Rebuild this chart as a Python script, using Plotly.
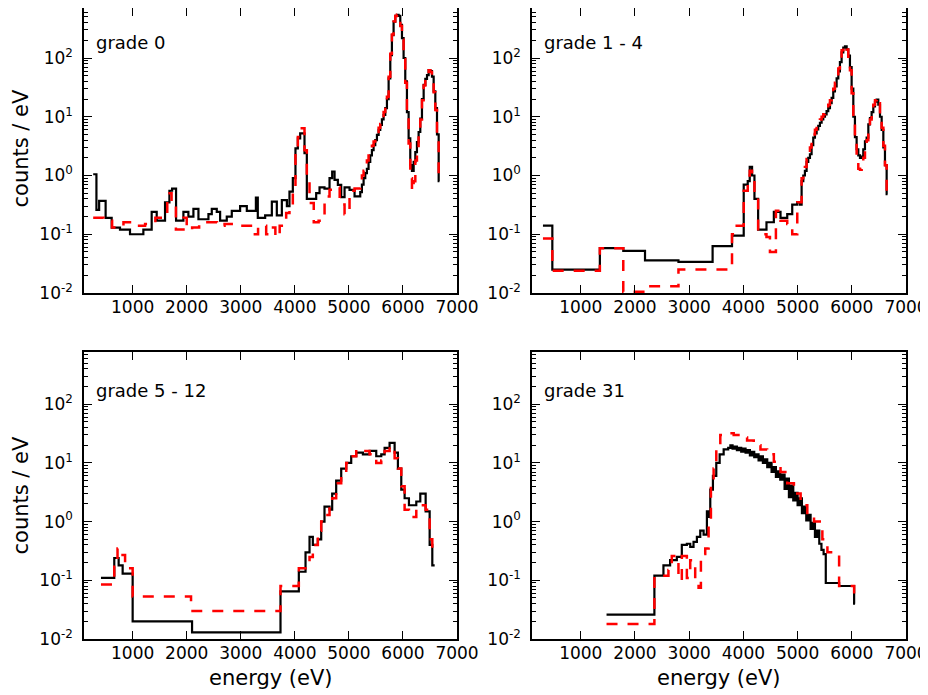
import plotly.graph_objects as go

# ---------------- data (bin edges in eV, counts / eV per bin) ----------------
g0_black_edges = [270, 330, 380, 500, 612, 766, 951, 1198, 1352, 1445, 1599, 1680, 1730, 1803,
                  1939, 2031, 2124, 2217, 2402, 2464, 2556, 2618, 2741, 2834, 2988, 3112, 3280,
                  3315, 3451, 3575, 3667, 3760, 3853, 3901, 3963, 4012, 4056, 4099, 4179, 4222,
                  4395, 4457, 4549, 4642, 4691, 4735, 4796, 4858, 4920, 5012, 5105,
                  5210, 5241, 5272, 5303, 5333, 5364, 5395, 5426, 5457, 5488, 5519, 5550, 5580,
                  5611, 5642, 5673, 5704, 5735, 5766, 5796, 5827, 5858, 5889, 5920, 5951, 5982,
                  6012, 6043, 6074, 6105, 6136, 6167, 6198, 6229, 6259, 6290, 6321, 6352, 6383,
                  6414, 6445, 6476, 6506, 6537, 6568, 6599, 6630, 6661, 6675]
g0_black_vals = [1.05, 0.26, 0.37, 0.19, 0.13, 0.12, 0.10, 0.12, 0.24, 0.17, 0.35, 0.55, 0.6,
                 0.17, 0.24, 0.20, 0.27, 0.18, 0.22, 0.27, 0.24, 0.17, 0.20, 0.25, 0.30, 0.25,
                 0.42, 0.19, 0.21, 0.36, 0.21, 0.38, 0.30, 0.53, 0.9, 2.9, 4.3, 5.2, 2.4, 0.4,
                 0.5, 0.63, 0.6, 0.9, 1.17, 0.84, 0.69, 0.43, 0.63, 0.57, 0.44,
                 0.52, 0.7, 0.9, 1.1, 1.3, 1.7, 2.2, 2.7, 3.3, 4.0, 4.9, 6.0, 7.3, 9, 10.7, 14,
                 20, 45, 112, 245, 415, 520, 540, 520, 365, 218, 100, 40, 12, 4.3, 1.5, 1.2,
                 1.7, 2.5, 3.7, 5.5, 9.3, 20, 35, 44, 51, 62, 60, 48, 27, 14, 5, 0.8]

g0_red_edges = [270, 460, 620, 830, 1075, 1230, 1420, 1520, 1640, 1720, 1800, 1940, 2000, 2100,
                2230, 2400, 2560, 2700, 2870, 3080, 3230, 3320, 3470, 3560, 3640, 3720, 3840,
                3901, 3963, 4012, 4056, 4099, 4179, 4222, 4272, 4350, 4440, 4550, 4642, 4735,
                4830, 4920, 5012, 5105,
                5210, 5241, 5272, 5303, 5333, 5364, 5395, 5426, 5457, 5488, 5519, 5550, 5580,
                5611, 5642, 5673, 5704, 5735, 5766, 5796, 5827, 5858, 5889, 5920, 5951, 5982,
                6012, 6043, 6074, 6105, 6136, 6167, 6198, 6229, 6259, 6290, 6321, 6352, 6383,
                6414, 6445, 6476, 6506, 6537, 6568, 6599, 6630, 6661, 6675]
g0_red_vals = [0.19, 0.17, 0.13, 0.16, 0.14, 0.15, 0.19, 0.22, 0.5, 0.3, 0.12, 0.19, 0.12,
               0.13, 0.16, 0.16, 0.14, 0.15, 0.14, 0.14, 0.10, 0.14, 0.10, 0.13, 0.09, 0.14,
               0.23, 0.26, 0.55, 2.5, 4.5, 6.4, 2.7, 0.8, 0.34, 0.16, 0.17, 0.44, 0.57, 0.63,
               0.32, 0.22, 0.55, 0.6,
               0.8, 1.0, 1.2, 1.5, 1.8, 2.2, 2.8, 3.2, 3.8, 4.6, 5.5, 6.5, 7.5, 9.5, 12, 15,
               22, 48, 118, 250, 420, 520, 545, 510, 350, 205, 95, 38, 11, 3.5, 0.9, 0.55,
               0.8, 1.8, 3.0, 5, 9, 19, 34, 45, 53, 62, 58, 46, 26, 13, 5, 1.0]

g14_black_edges = [302, 475, 1352, 1784, 2185, 2802, 3432, 3790, 4006, 4080, 4117, 4160, 4204,
                   4272, 4426, 4562, 4685, 4809, 4901, 4994,
                   5043, 5074, 5105, 5135, 5166, 5197, 5228, 5258, 5289, 5320, 5351, 5381, 5412,
                   5443, 5474, 5505, 5535, 5566, 5597, 5628, 5658, 5689, 5720, 5751, 5781, 5812,
                   5843, 5874, 5905, 5935, 5966, 5997, 6028, 6058, 6089, 6120, 6151, 6182, 6212,
                   6243, 6274, 6305, 6335, 6366, 6397, 6428, 6458, 6489, 6520, 6551, 6582, 6612,
                   6643, 6660]
g14_black_vals = [0.14, 0.025, 0.058, 0.052, 0.036, 0.034, 0.063, 0.095, 0.7, 0.8, 1.4, 1.0,
                  0.4, 0.12, 0.16, 0.24, 0.19, 0.22, 0.32, 0.35,
                  0.32, 0.8, 1.0, 1.2, 1.7, 2.0, 2.3, 3.3, 4.4, 5.2, 6.1, 7.0, 7.9, 9, 10, 11,
                  12.5, 14, 17, 21, 27, 33, 45, 59, 85, 125, 150, 158, 140, 110, 70, 30, 10,
                  4.5, 2.8, 2.2, 2.0, 2.1, 2.8, 3.8, 4.4, 7.4, 9.5, 12, 15, 18, 19.6, 16, 10, 6,
                  3, 1.5, 0.48]

g14_red_edges = [302, 475, 1352, 1784, 2197, 2802, 3790, 3850, 4006, 4080, 4117, 4160, 4204,
                 4272, 4426, 4490, 4600, 4685, 4809, 4901, 4994,
                 5043, 5074, 5105, 5135, 5166, 5197, 5228, 5258, 5289, 5320, 5351, 5381, 5412,
                 5443, 5474, 5505, 5535, 5566, 5597, 5628, 5658, 5689, 5720, 5751, 5781, 5812,
                 5843, 5874, 5905, 5935, 5966, 5997, 6028, 6058, 6089, 6120, 6151, 6182, 6212,
                 6243, 6274, 6305, 6335, 6366, 6397, 6428, 6458, 6489, 6520, 6551, 6582, 6612,
                 6643, 6660]
g14_red_vals = [0.085, 0.024, 0.058, 0.0105, 0.013, 0.025, 0.1, 0.14, 0.55, 1.0, 1.2, 0.9,
                0.45, 0.1, 0.09, 0.05, 0.25, 0.17, 0.15, 0.1, 0.35,
                0.35, 0.9, 1.1, 1.4, 1.9, 2.4, 3.0, 4.0, 5.0, 6.0, 7, 8, 9, 10, 11, 12.5, 14,
                16, 19, 24, 30, 38, 50, 66, 95, 135, 160, 165, 140, 105, 62, 25, 8, 3.5, 1.7,
                1.3, 1.25, 1.4, 2.0, 3.0, 4, 7, 9, 12, 16, 19, 21, 17, 11, 6.5, 3.2, 1.5, 0.45]

g512_black_edges = [414, 660, 741, 815, 1000, 2099, 3735, 4074, 4198, 4272, 4333, 4426, 4488,
                    4549, 4642, 4691, 4765, 4858, 4951, 5043, 5136, 5259, 5383, 5506, 5599, 5661,
                    5753, 5846, 5907, 5969, 6031, 6111, 6247, 6321, 6420, 6494, 6543, 6587]
g512_black_vals = [0.11, 0.24, 0.18, 0.13, 0.02, 0.013, 0.065, 0.14, 0.3, 0.55, 0.4, 0.5, 1.0,
                   1.8, 1.6, 3, 5, 8, 10, 13, 15, 14, 16, 13, 14, 18, 22, 15, 8, 3.5, 2.5, 1.9,
                   2.2, 3, 1.5, 0.4, 0.18]

g512_red_edges = [414, 660, 720, 780, 860, 1000, 2080, 3735, 4074, 4198, 4272, 4333, 4426, 4488,
                  4549, 4642, 4691, 4765, 4858, 4951, 5043, 5136, 5259, 5383, 5506, 5599, 5661,
                  5753, 5846, 5907, 5969, 6031, 6111, 6247, 6321, 6420, 6494, 6543, 6587]
g512_red_vals = [0.085, 0.17, 0.35, 0.27, 0.16, 0.053, 0.03, 0.08, 0.16, 0.2, 0.25, 0.4, 0.7,
                 1.0, 1.3, 2.0, 2.5, 4.5, 7, 10, 13, 17, 16, 14, 10, 11, 16, 19, 12, 8, 4, 1.6,
                 1.2, 1.8, 1.9, 1.6, 0.5, 0.3]

g31_black_edges = [1475, 2358, 2525, 2648, 2772, 2864, 2957, 3019, 3080, 3142, 3204, 3266, 3327,
                   3358, 3389, 3438, 3500, 3562, 3636, 3720, 3760, 3800, 3840, 3880, 3920, 3960,
                   4000, 4040, 4080, 4120, 4160, 4200, 4240, 4280, 4320, 4360, 4400, 4440, 4480,
                   4520, 4560, 4600, 4640, 4680, 4720, 4760, 4800, 4840, 4880, 4920, 4960, 5000,
                   5040, 5080, 5120, 5160, 5200, 5240, 5280, 5320, 5360, 5400, 5440, 5480, 5520,
                   5766, 6043, 6060]
g31_black_vals = [0.026, 0.12, 0.18, 0.22, 0.25, 0.4, 0.42, 0.37, 0.45, 0.55, 0.7, 0.6, 1.5,
                  1.2, 3.5, 6, 10, 14, 17, 18, 20, 17.5, 19, 16.5, 18, 15.5, 17.5, 15, 16.5,
                  13.5, 15.5, 12.5, 14, 11, 13, 10, 11.5, 8.5, 10, 7, 8.5, 5.8, 7.2, 5.2, 6.3,
                  3.6, 5.4, 2.6, 4.1, 2.3, 3.1, 1.9, 2.5, 1.4, 1.8, 1.05, 1.3, 0.75, 0.95, 0.55,
                  0.7, 0.42, 0.33, 0.28, 0.09, 0.08, 0.04]

g31_red_edges = [1475, 2358, 2617, 2679, 2802, 2864, 2957, 3019, 3111, 3173, 3216, 3296, 3358,
                 3401, 3451, 3500, 3574, 3698, 3821, 3945, 4068, 4191, 4315, 4438, 4562, 4685,
                 4809, 4932, 5056, 5179, 5303, 5457, 5550, 5766, 6043, 6060]
g31_red_vals = [0.018, 0.12, 0.15, 0.26, 0.1, 0.26, 0.11, 0.22, 0.1, 0.075, 0.28, 0.35, 1.0, 4,
                8, 20, 30, 32, 30, 27, 24, 20, 17, 14, 10.5, 7, 4.5, 3, 1.9, 1.3, 1.0, 0.5,
                0.3, 0.08, 0.045]

panel_labels = ["grade 0", "grade 1 - 4", "grade 5 - 12", "grade 31"]
x_tick_vals = [1000, 2000, 3000, 4000, 5000, 6000, 7000]
y_tick_vals = [0.01, 0.1, 1, 10, 100]
y_tick_text = ["10<sup>-2</sup>", "10<sup>-1</sup>", "10<sup>0</sup>", "10<sup>1</sup>", "10<sup>2</sup>"]
x_title = "energy (eV)"
y_title = "counts / eV"

# ---------------- figure ----------------
# The page body has an 8px margin, so the figure is laid out in coordinates
# shifted by 8px from the window.
OFF = 8
W, H = 928 - OFF, 695 - OFF
FONT = "DejaVu Sans"


def px_x(v):
    return (v - OFF) / W


def px_y(v):
    return 1 - (v - OFF) / H


xdom = [[px_x(84), px_x(457)], [px_x(532), px_x(906)]]
ydom = [[px_y(293), 1.0], [px_y(639), px_y(352)]]
yrng = [[-2, 2.851], [-2, 2.89]]

panels = [
    (g0_black_edges, g0_black_vals, g0_red_edges, g0_red_vals),
    (g14_black_edges, g14_black_vals, g14_red_edges, g14_red_vals),
    (g512_black_edges, g512_black_vals, g512_red_edges, g512_red_vals),
    (g31_black_edges, g31_black_vals, g31_red_edges, g31_red_vals),
]

fig = go.Figure()
layout = dict(width=W, height=H, margin=dict(l=0, r=0, t=0, b=0, autoexpand=False),
              paper_bgcolor="white", plot_bgcolor="white", showlegend=False,
              font=dict(family=FONT, size=17, color="black"))
annotations = []

for i, (be, bv, re_, rv) in enumerate(panels):
    n = i + 1
    xa = "x" if n == 1 else f"x{n}"
    ya = "y" if n == 1 else f"y{n}"
    col, row = i % 2, i // 2
    fig.add_trace(go.Scatter(x=be, y=bv + [bv[-1]], mode="lines", line_shape="hv",
                             line=dict(color="black", width=2.2), xaxis=xa, yaxis=ya,
                             hoverinfo="skip", cliponaxis=True))
    fig.add_trace(go.Scatter(x=re_, y=rv + [rv[-1]], mode="lines", line_shape="hv",
                             line=dict(color="red", width=2.5, dash="11px,10px"),
                             xaxis=xa, yaxis=ya, hoverinfo="skip", cliponaxis=True))
    xkey = "xaxis" if n == 1 else f"xaxis{n}"
    ykey = "yaxis" if n == 1 else f"yaxis{n}"
    layout[xkey] = dict(domain=xdom[col], anchor=ya, range=[100, 7000], automargin=False,
                        tickmode="array", tickvals=x_tick_vals,
                        ticks="inside", ticklen=8, tickwidth=1, tickcolor="black",
                        showline=True, linewidth=1.5, linecolor="black", mirror="allticks",
                        showgrid=False, zeroline=False, ticklabelstandoff=-2,
                        tickfont=dict(family=FONT, size=17, color="black"))
    layout[ykey] = dict(domain=ydom[row], anchor=xa, type="log", range=yrng[row],
                        automargin=False,
                        tickmode="array", tickvals=y_tick_vals, ticktext=y_tick_text,
                        ticks="inside", ticklen=8, tickwidth=1, tickcolor="black",
                        minor=dict(ticks="inside", ticklen=4, tickwidth=1, tickcolor="black",
                                   dtick="D1", showgrid=False),
                        showline=True, linewidth=1.5, linecolor="black", mirror="allticks",
                        showgrid=False, zeroline=False, ticklabelstandoff=6,
                        tickfont=dict(family=FONT, size=17, color="black"))
    annotations.append(dict(text=panel_labels[i], xref="paper", yref="paper",
                            x=px_x(94 if col == 0 else 542),
                            y=px_y(43 if row == 0 else 390),
                            xanchor="left", yanchor="middle", showarrow=False,
                            font=dict(family=FONT, size=18, color="black")))

for row, yc in enumerate([148.5, 495.5]):
    annotations.append(dict(text=y_title, xref="paper", yref="paper", x=px_x(20), y=px_y(yc),
                            xanchor="center", yanchor="middle", textangle=-90, showarrow=False,
                            font=dict(family=FONT, size=21, color="black")))
for col, xc in enumerate([270.5, 719]):
    annotations.append(dict(text=x_title, xref="paper", yref="paper", x=px_x(xc), y=px_y(678),
                            xanchor="center", yanchor="middle", showarrow=False,
                            font=dict(family=FONT, size=21, color="black")))

layout["annotations"] = annotations
fig.update_layout(**layout)
fig.write_html("out.html")
